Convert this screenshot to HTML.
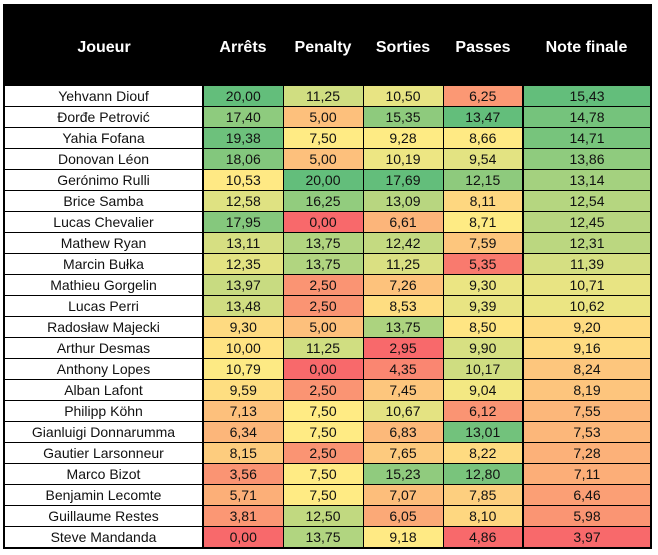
<!DOCTYPE html>
<html><head><meta charset="utf-8"><style>
body{margin:0;background:#fff;font-family:"Liberation Sans",sans-serif;}
table{position:absolute;left:3px;top:4px;border-collapse:collapse;table-layout:fixed;border:2px solid #000;}
th{background:#000;color:#fff;font-weight:bold;font-size:16px;height:80px;padding:6px 0 0 0;box-sizing:border-box;}
td{border:1px solid #000;height:20px;padding:0;text-align:center;font-size:14px;color:#111;}
td.n{background:#fff;}
td.b{border-left:2px solid #000;}
</style></head><body>
<table id="t">
<colgroup><col style="width:199px"><col style="width:80px"><col style="width:80px"><col style="width:80px"><col style="width:80px"><col style="width:128px"></colgroup>
<thead><tr><th>Joueur</th><th>Arrêts</th><th>Penalty</th><th>Sorties</th><th>Passes</th><th>Note finale</th></tr></thead>
<tbody id="b"></tbody></table>
<script>
var d=[["Yehvann Diouf",20,11.25,10.5,6.25,15.43],["Đorđe Petrović",17.4,5,15.35,13.47,14.78],["Yahia Fofana",19.38,7.5,9.28,8.66,14.71],["Donovan Léon",18.06,5,10.19,9.54,13.86],["Gerónimo Rulli",10.53,20,17.69,12.15,13.14],["Brice Samba",12.58,16.25,13.09,8.11,12.54],["Lucas Chevalier",17.95,0,6.61,8.71,12.45],["Mathew Ryan",13.11,13.75,12.42,7.59,12.31],["Marcin Bułka",12.35,13.75,11.25,5.35,11.39],["Mathieu Gorgelin",13.97,2.5,7.26,9.3,10.71],["Lucas Perri",13.48,2.5,8.53,9.39,10.62],["Radosław Majecki",9.3,5,13.75,8.5,9.2],["Arthur Desmas",10,11.25,2.95,9.9,9.16],["Anthony Lopes",10.79,0,4.35,10.17,8.24],["Alban Lafont",9.59,2.5,7.45,9.04,8.19],["Philipp Köhn",7.13,7.5,10.67,6.12,7.55],["Gianluigi Donnarumma",6.34,7.5,6.83,13.01,7.53],["Gautier Larsonneur",8.15,2.5,7.65,8.22,7.28],["Marco Bizot",3.56,7.5,15.23,12.8,7.11],["Benjamin Lecomte",5.71,7.5,7.07,7.85,6.46],["Guillaume Restes",3.81,12.5,6.05,8.1,5.98],["Steve Mandanda",0,13.75,9.18,4.86,3.97]];
var R=[248,105,107],Y=[255,235,132],G=[99,190,123];
function mix(a,b,t){return 'rgb('+a.map((v,i)=>Math.round(v+(b[i]-v)*t)).join(',')+')';}
var st=[];for(var c=1;c<=5;c++){var v=d.map(r=>r[c]).sort((a,b)=>a-b);var n=v.length;var p=(n-1)*0.5,lo=Math.floor(p);var med=v[lo]+(v[lo+1]-v[lo])*(p-lo);st[c]=[v[0],med,v[n-1]];}
function col(x,s){if(x<=s[1])return mix(R,Y,(x-s[0])/(s[1]-s[0]||1));return mix(Y,G,(x-s[1])/(s[2]-s[1]||1));}
var h='';d.forEach(r=>{h+='<tr><td class="n">'+r[0]+'</td>';for(var c=1;c<=5;c++){h+='<td'+(c==1||c==5?' class="b"':'')+' style="background:'+col(r[c],st[c])+'">'+r[c].toFixed(2).replace('.',',')+'</td>';}h+='</tr>';});
document.getElementById('b').innerHTML=h;
</script>
</body></html>
